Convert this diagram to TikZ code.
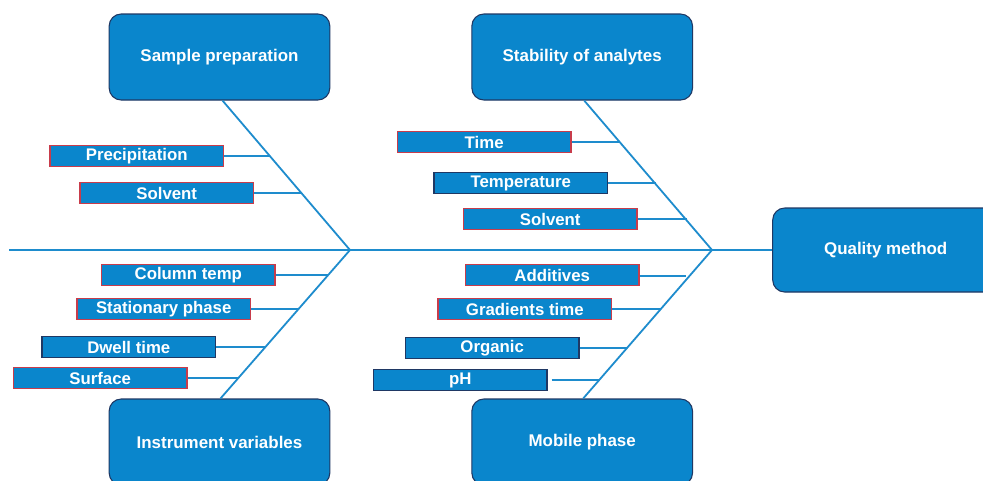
\documentclass[tikz,border=0pt]{standalone}
\usepackage{fontspec}
\setmainfont{Liberation Sans}
\usetikzlibrary{calc}
\definecolor{boxblue}{RGB}{10,134,204}
\definecolor{lineblue}{RGB}{30,140,205}
\definecolor{redborder}{RGB}{200,60,75}
\definecolor{navy}{RGB}{31,56,100}
\begin{document}
\begin{tikzpicture}[x=0.75pt,y=-0.75pt,
  mainbox/.style={draw=navy,line width=0.8pt,fill=boxblue,rounded corners=9pt,
    minimum width=165.5pt,minimum height=64.5pt,inner sep=0pt,
    text=white,font=\fontsize{12.7}{14}\selectfont\bfseries},
  lbl/.style={fill=boxblue,line width=1.1pt,minimum width=130pt,minimum height=16pt,
    inner sep=0pt,text=white,font=\fontsize{12.6}{14}\selectfont\bfseries},
  redlbl/.style={lbl,draw=redborder},
  navylbl/.style={lbl,draw=navy},
  bone/.style={draw=lineblue,line width=1.35pt},
  spine/.style={draw=lineblue,line width=1.7pt}]
\clip (0,0) rectangle (983,480);
\fill[white] (0,0) rectangle (983,480);

% main boxes
\node[mainbox] (sp) at (219.5,57) {\raisebox{2pt}{Sample preparation}};
\node[mainbox] (sa) at (582.2,57) {Stability of analytes};
\node[mainbox] (iv) at (219.5,442) {Instrument variables};
\node[mainbox] (mp) at (582.2,442) {Mobile phase};
\node[mainbox,minimum width=169.5pt,minimum height=63pt] (qm) at (885.7,250) {\raisebox{-2pt}{Quality method}};

% spine and chevrons
\coordinate (tail) at (9,250);
\coordinate (c1) at (350,250);
\coordinate (c2) at (712,250);
\draw[spine] (tail) -- (qm.west);
\draw[bone] ($(sp.south)+(3,0)$) -- (c1) -- ($(iv.north)+(1,0)$);
\draw[bone] ($(sa.south)+(2,0)$) -- (c2) -- ($(mp.north)+(1,0)$);

% labels
\node[redlbl]  (prec) at (136.7,156) {Precipitation};
\node[redlbl]  (solva) at (166.7,193) {Solvent};
\node[redlbl]  (time) at (484.2,142) {Time};
\node[navylbl] (temp) at (520.8,183) {Temperature};
\node[redlbl]  (solvb) at (550.2,219) {Solvent};
\node[redlbl]  (colt) at (188.3,275) {Column temp};
\node[redlbl]  (stat) at (163.7,309) {Stationary phase};
\node[navylbl] (dwell) at (128.8,347) {Dwell time};
\node[redlbl]  (surf) at (100.2,378) {Surface};
\node[redlbl]  (addi) at (552.2,275) {Additives};
\node[redlbl]  (grad) at (524.8,309) {Gradients time};
\node[navylbl] (orga) at (492.2,348) {Organic};
\node[navylbl] (ph) at (460.3,380) {pH};

% branch points
\coordinate (bprec) at (270.1,156);
\coordinate (bsolva) at (301.5,193);
\coordinate (btime) at (620.3,142);
\coordinate (btemp) at (655.5,183);
\coordinate (bsolvb) at (687,219);
\coordinate (bcolt) at (327.6,275);
\coordinate (bstat) at (299.1,309);
\coordinate (bdwell) at (265.9,347);
\coordinate (bsurf) at (238.6,378);
\coordinate (baddi) at (686,276);
\coordinate (bgrad) at (660.9,309);
\coordinate (borga) at (627.1,348);
\coordinate (bph) at (599.4,380);
\coordinate (phstart) at (551.7,380);

\foreach \n in {prec,solva,time,temp,solvb,colt,stat,dwell,surf,grad,orga}
  \draw[bone] (\n.east |- b\n) -- (b\n);
\draw[bone] (addi.east |- baddi) -- (baddi);
\draw[bone] (phstart) -- (bph);
\end{tikzpicture}
\end{document}
